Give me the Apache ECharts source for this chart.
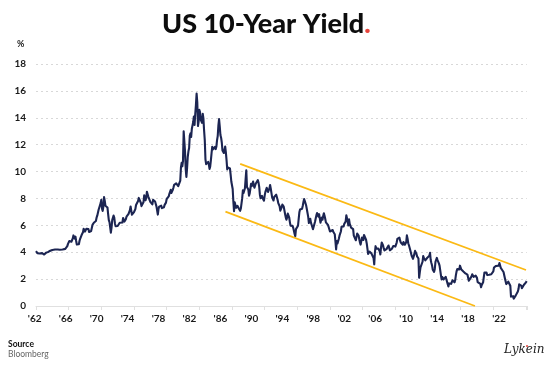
<!DOCTYPE html>
<html>
<head>
<meta charset="utf-8">
<script src="https://cdn.jsdelivr.net/npm/echarts@6/dist/echarts.min.js"></script>
<style>html,body{margin:0;padding:0;background:#fff}#c{width:550px;height:372px}</style>
</head>
<body>
<div id="c"></div>
<script>
// Monthly US 10-year yield (%), starting Jan 1962
const startYear = 1962;
const yields = [
4.08,4.04,3.93,3.84,3.87,3.91,4.01,3.98,3.98,3.93,3.92,3.86,
3.83,3.92,3.93,3.97,3.93,3.99,4.02,4.00,4.08,4.11,4.12,4.13,
4.17,4.15,4.22,4.23,4.20,4.17,4.19,4.19,4.20,4.19,4.15,4.18,
4.19,4.21,4.21,4.20,4.21,4.21,4.20,4.25,4.29,4.35,4.45,4.62,
4.61,4.83,4.87,4.75,4.78,4.81,5.02,5.25,5.18,5.01,5.16,4.84,
4.58,4.63,4.54,4.59,4.85,5.02,5.16,5.28,5.30,5.48,5.75,5.70,
5.53,5.56,5.74,5.64,5.87,5.72,5.50,5.42,5.46,5.58,5.70,6.03,
6.04,6.19,6.30,6.17,6.32,6.57,6.72,6.69,7.16,7.10,7.14,7.65,
7.90,7.24,7.07,7.39,8.10,7.84,7.46,7.53,7.39,7.33,6.84,6.39,
6.24,6.11,5.45,5.83,6.39,6.52,6.73,6.58,6.14,5.93,5.81,5.93,
5.95,6.08,6.07,6.19,6.13,6.11,6.11,6.21,6.55,6.48,6.28,6.36,
6.46,6.64,6.71,6.67,6.85,6.90,7.13,7.40,7.09,6.79,6.73,6.74,
6.99,6.96,7.21,7.51,7.58,7.54,7.81,8.04,8.04,7.90,7.68,7.43,
7.50,7.39,7.73,8.23,8.06,7.86,8.06,8.50,8.48,8.14,8.05,8.00,
7.74,7.79,7.73,7.56,7.90,7.86,7.83,7.77,7.59,7.41,7.29,6.80,
7.21,7.39,7.46,7.37,7.46,7.28,7.33,7.40,7.34,7.52,7.58,7.69,
7.96,8.03,8.04,8.15,8.35,8.46,8.64,8.41,8.42,8.64,8.81,9.01,
9.10,9.10,9.12,9.18,9.25,8.91,8.95,9.03,9.33,10.30,10.65,10.39,
10.80,13.00,12.90,11.47,10.18,9.60,10.25,11.10,11.51,11.75,12.68,12.84,
12.57,13.19,13.12,13.68,14.10,13.47,14.28,14.94,15.80,15.15,13.39,13.72,
14.59,14.43,13.86,13.87,13.62,14.30,13.95,13.06,12.34,10.91,10.55,10.54,
10.46,10.72,10.51,10.20,10.38,10.85,11.38,11.85,11.65,11.54,11.69,11.83,
11.67,11.84,12.32,12.63,13.41,13.90,13.36,12.72,12.52,12.16,11.57,11.50,
11.38,11.51,11.86,11.43,10.85,10.16,10.31,10.33,10.37,10.24,9.78,9.26,
9.19,8.70,7.78,7.05,7.71,7.80,7.30,7.17,7.45,7.43,7.25,7.11,
7.08,7.25,7.25,8.02,8.61,8.40,8.45,8.76,9.42,10.10,8.86,8.99,
8.67,8.21,8.37,8.72,9.09,8.92,9.06,9.26,8.98,8.80,8.96,9.11,
9.09,9.17,9.36,9.18,8.86,8.28,8.02,8.11,8.19,8.01,7.87,7.84,
8.21,8.47,8.59,8.79,8.76,8.48,8.47,8.75,9.00,8.72,8.39,8.08,
8.09,7.85,8.11,8.04,8.07,8.28,8.27,7.90,7.65,7.53,7.42,7.09,
7.03,7.34,7.54,7.48,7.39,7.26,6.84,6.59,6.42,6.59,6.87,6.77,
6.60,6.26,5.98,5.97,6.04,5.96,5.81,5.68,5.36,5.20,5.72,5.77,
5.75,5.97,6.48,6.97,7.18,7.10,7.30,7.24,7.46,7.74,7.96,7.81,
7.78,7.47,7.20,7.06,6.63,6.17,6.28,6.49,6.20,6.04,5.93,5.71,
5.65,5.81,6.27,6.51,6.74,6.91,6.87,6.64,6.83,6.53,6.20,6.30,
6.58,6.42,6.69,6.89,6.71,6.49,6.22,6.30,6.21,6.03,5.88,5.81,
5.54,5.57,5.65,5.64,5.65,5.50,5.46,5.34,4.81,4.20,4.83,4.65,
4.72,5.00,5.23,5.18,5.54,5.90,5.79,5.94,5.92,6.11,6.03,6.28,
6.75,6.52,6.26,5.99,6.44,6.10,6.05,5.83,5.80,5.74,5.72,5.24,
5.16,5.10,4.89,5.14,5.39,5.28,5.24,4.97,4.73,4.57,4.65,5.09,
5.04,4.91,5.28,5.21,5.16,4.93,4.65,4.26,3.87,3.94,4.05,4.03,
4.05,3.90,3.81,3.96,3.57,3.10,3.98,4.45,4.27,4.29,4.30,4.27,
4.15,4.08,3.83,4.35,4.72,4.73,4.50,4.28,4.13,4.10,4.19,4.23,
4.22,4.17,4.50,4.34,4.14,4.00,4.18,4.26,4.20,4.46,4.54,4.47,
4.42,4.57,4.72,4.99,5.11,5.11,5.09,4.88,4.72,4.73,4.60,4.56,
4.76,4.72,4.56,4.69,4.75,5.25,5.00,4.67,4.52,4.53,4.15,4.10,
3.74,3.74,3.51,3.68,3.88,4.10,4.01,3.89,3.69,3.81,3.53,2.10,
2.52,2.87,2.82,2.93,3.29,3.72,3.56,3.59,3.40,3.39,3.40,3.59,
3.73,3.69,3.73,3.95,3.42,3.20,3.01,2.70,2.65,2.54,2.76,3.29,
3.39,3.58,3.41,3.46,3.17,3.00,3.00,2.30,1.98,2.15,2.01,1.98,
1.97,1.97,2.17,2.05,1.80,1.62,1.45,1.68,1.72,1.75,1.65,1.72,
1.91,1.98,1.96,1.76,1.93,2.30,2.58,2.74,2.81,2.62,2.72,3.00,
2.86,2.71,2.72,2.71,2.56,2.60,2.54,2.42,2.53,2.30,2.33,2.21,
1.88,1.98,2.04,1.94,2.20,2.36,2.32,2.17,2.17,2.07,2.26,2.24,
2.09,1.78,1.89,1.81,1.81,1.64,1.40,1.56,1.63,1.76,2.14,2.49,
2.43,2.42,2.48,2.30,2.30,2.19,2.32,2.21,2.20,2.36,2.35,2.40,
2.58,2.86,2.84,2.87,2.98,2.91,2.89,2.89,3.00,3.20,3.12,2.83,
2.71,2.68,2.57,2.53,2.40,2.07,2.06,1.63,1.70,1.71,1.81,1.86,
1.76,1.50,0.70,0.60,0.67,0.73,0.55,0.55,0.68,0.79,0.87,0.93,
1.08,1.26,1.61,1.64,1.62,1.52,1.32,1.28,1.37,1.58,1.56,1.47,
1.76,1.85
];
// Trend channel endpoints [year, %]
const upperChannel = [[1987.0, 10.57], [2022.0, 2.68]];
const lowerChannel = [[1985.2, 7.02], [2015.75, 0.0]];
// X tick labels
const tickLabels = ["'62","'66","'70","'74","'78","'82","'86","'90","'94","'98","'02","'06","'10","'14","'18","'22"];

const lineData = yields.map((v, i) => [startYear + i / 12, v]);

const chart = echarts.init(document.getElementById('c'), null, {renderer: 'canvas'});
const labelFont = {fontFamily: 'Lato', fontWeight: 'bold', fontSize: 10, color: '#1a1a1a'};
chart.setOption({
  animation: false,
  backgroundColor: '#fff',
  title: {
    text: '{a|US 10-Year Yield}{b|.}',
    left: 157, top: 6,
    textStyle: {
      rich: {
        a: {fontFamily: 'Lato', fontWeight: 900, fontSize: 27, color: '#0d0d0d'},
        b: {fontFamily: 'Lato', fontWeight: 900, fontSize: 27, color: '#e8453c'}
      }
    }
  },
  grid: [
    {left: 36, right: 23.2, top: 64, bottom: 66},
    {left: 34.7, right: 51, top: 64, bottom: 66}
  ],
  xAxis: [
    {
      type: 'value', gridIndex: 0, min: 1962, max: 2022.1, interval: 4,
      axisLine: {show: true, lineStyle: {color: '#e0e0e0', width: 1}},
      axisTick: {show: true, length: 4, lineStyle: {color: '#e0e0e0'}},
      axisLabel: {show: false},
      splitLine: {show: false}
    },
    {
      type: 'category', gridIndex: 1, data: tickLabels, boundaryGap: false,
      axisLine: {show: false}, axisTick: {show: false},
      axisLabel: Object.assign({margin: 8, interval: 0}, labelFont),
      splitLine: {show: false}
    }
  ],
  yAxis: [
    {
      type: 'value', gridIndex: 0, min: 0, max: 18, interval: 2,
      axisLine: {show: false}, axisTick: {show: false},
      axisLabel: Object.assign({margin: 10}, labelFont),
      splitLine: {show: true, lineStyle: {color: '#d8d8d8', type: [2, 3], width: 1}}
    },
    {
      type: 'value', gridIndex: 1, min: 0, max: 18, show: false
    }
  ],
  graphic: [
    {type: 'text', left: 17, top: 40, style: {text: '%', fontFamily: 'Lato', fontWeight: 'bold', fontSize: 9, fill: '#222'}},
    {type: 'text', left: 8, top: 340, style: {text: 'Source', fontFamily: 'Lato', fontWeight: 'bold', fontSize: 8.5, fill: '#111'}},
    {type: 'text', left: 8, top: 350, style: {text: 'Bloomberg', fontFamily: 'Lato', fontSize: 8.5, fill: '#666'}},
    {type: 'text', left: 504, top: 344, style: {text: 'Lykein', fontFamily: 'DejaVu Serif', fontStyle: 'italic', fontSize: 12, fill: '#222'}},
    {type: 'circle', shape: {cx: 527, cy: 346, r: 1}, style: {fill: '#e8453c'}}
  ],
  series: [
    {
      type: 'line', xAxisIndex: 0, yAxisIndex: 0, data: lineData,
      showSymbol: false, sampling: null,
      lineStyle: {color: '#1c2552', width: 2.1, join: 'round'}, z: 3
    },
    {
      type: 'line', xAxisIndex: 0, yAxisIndex: 0, data: upperChannel,
      showSymbol: false, lineStyle: {color: '#fbb914', width: 1.8}, z: 2
    },
    {
      type: 'line', xAxisIndex: 0, yAxisIndex: 0, data: lowerChannel,
      showSymbol: false, lineStyle: {color: '#fbb914', width: 1.8}, z: 2
    }
  ]
});
</script>
</body>
</html>
